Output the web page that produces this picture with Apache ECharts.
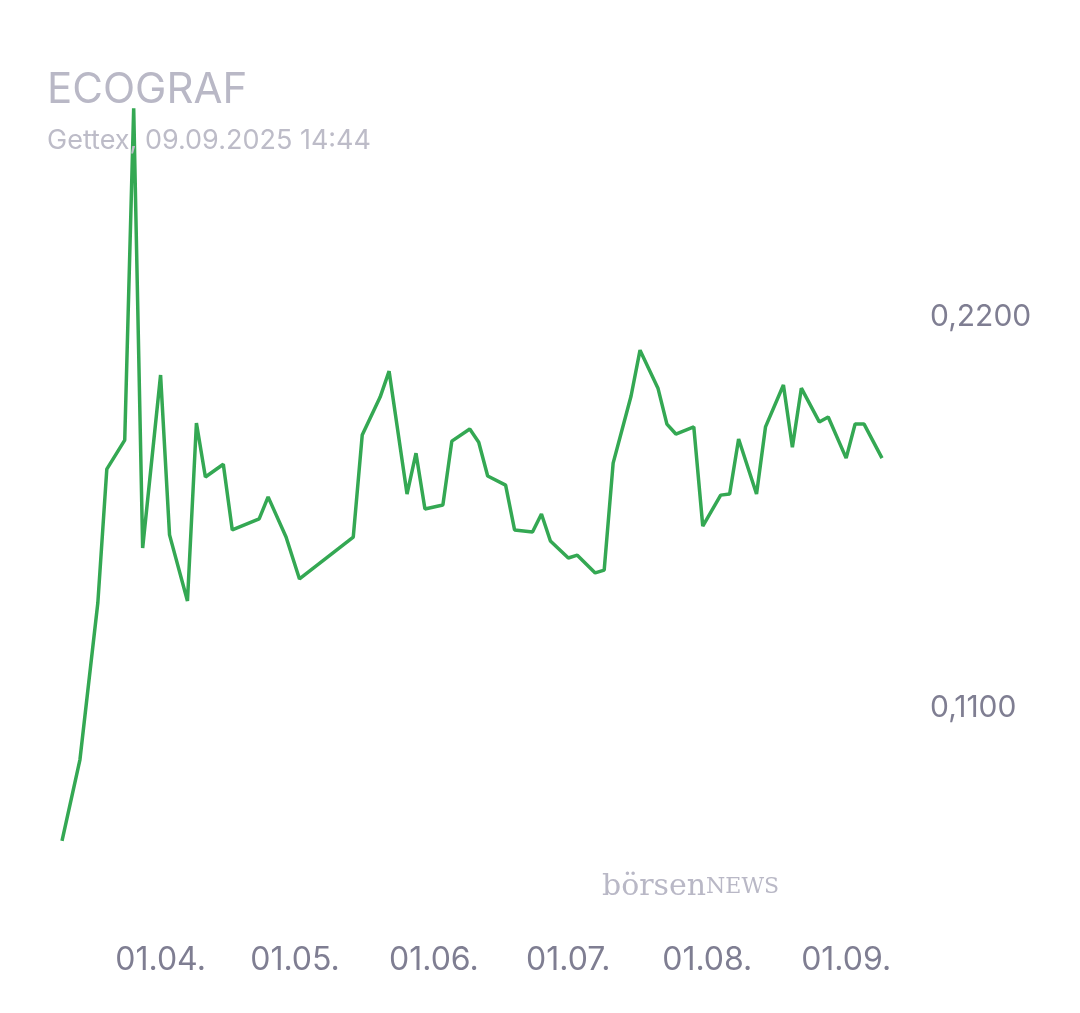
<!DOCTYPE html><html><head><meta charset="utf-8"><script src="https://cdn.jsdelivr.net/npm/echarts@6/dist/echarts.min.js"></script>
<style>html,body{margin:0;background:#fff}#c{width:1080px;height:1013px}</style></head><body><div id="c"></div><script>
const dates=['2025-03-10','2025-03-14','2025-03-18','2025-03-20','2025-03-24','2025-03-26','2025-03-28','2025-04-01','2025-04-03','2025-04-07','2025-04-09','2025-04-11','2025-04-15','2025-04-17','2025-04-23','2025-04-25','2025-04-29','2025-05-02','2025-05-14','2025-05-16','2025-05-20','2025-05-22','2025-05-26','2025-05-28','2025-05-30','2025-06-03','2025-06-05','2025-06-09','2025-06-11','2025-06-13','2025-06-17','2025-06-19','2025-06-23','2025-06-25','2025-06-27','2025-07-01','2025-07-03','2025-07-07','2025-07-09','2025-07-11','2025-07-15','2025-07-17','2025-07-21','2025-07-23','2025-07-25','2025-07-29','2025-07-31','2025-08-04','2025-08-06','2025-08-08','2025-08-12','2025-08-14','2025-08-18','2025-08-20','2025-08-22','2025-08-26','2025-08-28','2025-09-01','2025-09-03','2025-09-05','2025-09-09'];
const values=[0.0726,0.0954,0.1396,0.1772,0.1854,0.2788,0.1550,0.2037,0.1587,0.1401,0.1902,0.1750,0.1786,0.1601,0.1632,0.1694,0.1581,0.1463,0.1581,0.1868,0.1975,0.2048,0.1702,0.1817,0.1660,0.1671,0.1851,0.1885,0.1848,0.1753,0.1727,0.1601,0.1595,0.1646,0.1570,0.1522,0.1530,0.1480,0.1488,0.1789,0.1978,0.2107,0.2000,0.1899,0.1871,0.1891,0.1612,0.1699,0.1702,0.1857,0.1702,0.1891,0.2009,0.1834,0.2000,0.1905,0.1919,0.1803,0.1899,0.1899,0.1803];
const xTicks=['2025-04-01','2025-05-01','2025-06-01','2025-07-01','2025-08-01','2025-09-01'];
const yTicks=[0.11,0.22];
const ts=d=>new Date(d+'T00:00:00Z').getTime();
const ch=echarts.init(document.getElementById('c'));
ch.setOption({
 animation:false,
 title:{text:'ECOGRAF',subtext:'Gettex, 09.09.2025 14:44',left:42,top:64,itemGap:16,
  textStyle:{fontFamily:'Inter',fontSize:42,fontWeight:'normal',color:'#b9b8c6'},
  subtextStyle:{fontFamily:'Inter',fontSize:27,color:'#bdbcc8'}},
 grid:{left:62,right:198,top:104,bottom:163},
 xAxis:{type:'value',min:ts('2025-03-10'),max:ts('2025-09-09'),axisLine:{show:false},axisTick:{show:false},splitLine:{show:false},
  axisLabel:{customValues:xTicks.map(ts),margin:94,fontFamily:'Inter',fontSize:32,color:'#7f7e92',
   formatter:v=>{const d=new Date(v);return String(d.getUTCDate()).padStart(2,'0')+'.'+String(d.getUTCMonth()+1).padStart(2,'0')+'.';}}},
 yAxis:{type:'value',position:'right',min:0.07,max:0.28,axisLine:{show:false},axisTick:{show:false},splitLine:{show:false},
  axisLabel:{customValues:yTicks,margin:48,fontFamily:'Inter',fontSize:30,color:'#7f7e92',formatter:v=>v.toFixed(4).replace('.',',')}},
 graphic:[{type:'text',left:602,top:872,style:{text:'{a|börsen}{b|NEWS}',fill:'#b9b8c6',rich:{a:{fontFamily:'DejaVu Serif',fontSize:30,fill:'#b9b8c6'},b:{fontFamily:'DejaVu Serif',fontSize:22,fill:'#b9b8c6'}}}}],
 series:[{type:'line',data:dates.map((d,i)=>[ts(d),values[i]]),showSymbol:false,lineStyle:{color:'#34a853',width:3.5},itemStyle:{color:'#34a853'}}]
});
</script></body></html>
